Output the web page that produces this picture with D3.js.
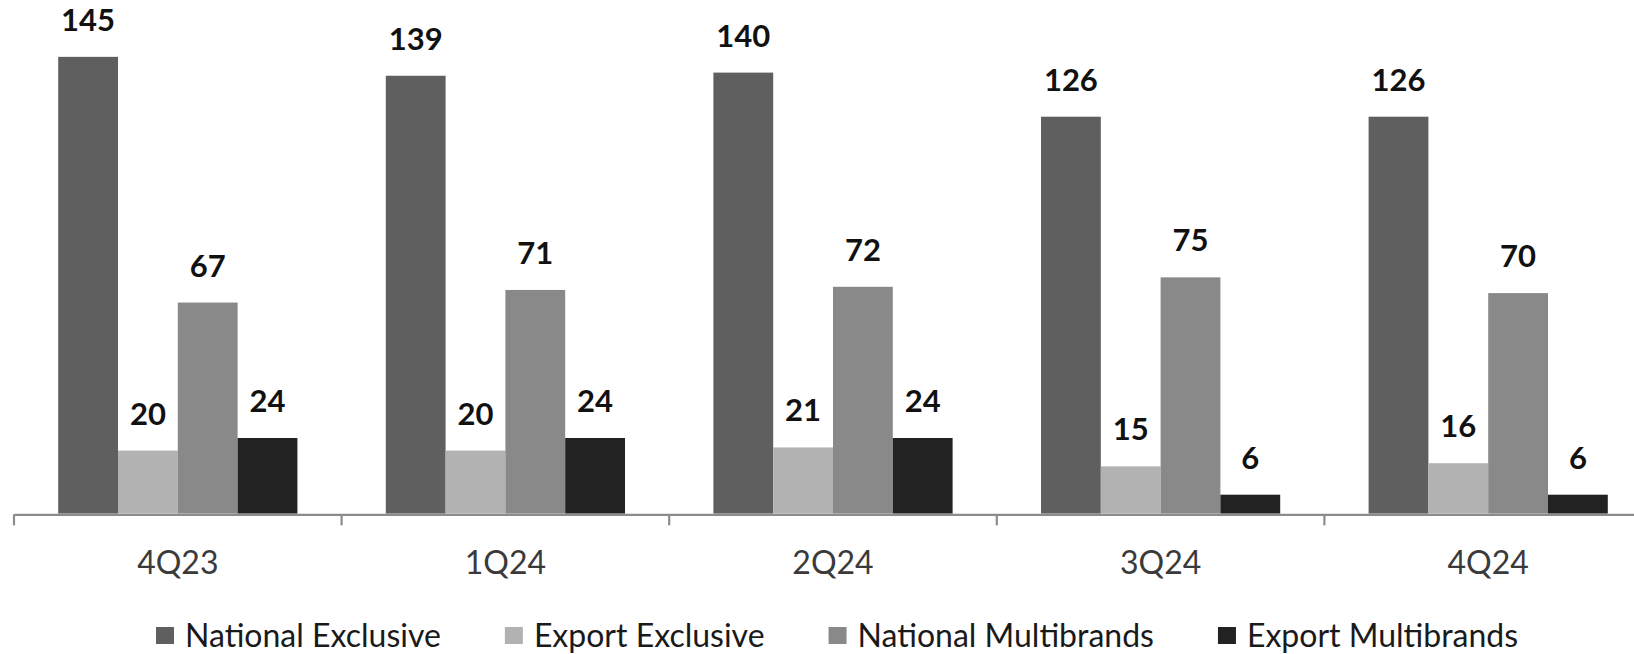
<!DOCTYPE html>
<html>
<head>
<meta charset="utf-8">
<script src="https://cdn.jsdelivr.net/npm/d3@7"></script>
<style>
  html, body { margin: 0; padding: 0; background: #fff; }
  svg { display: block; }
</style>
</head>
<body>
<div id="chart"></div>
<script>
const quarters = ["4Q23", "1Q24", "2Q24", "3Q24", "4Q24"];
const seriesNames = ["National Exclusive", "Export Exclusive", "National Multibrands", "Export Multibrands"];
const nationalExclusive = [145, 139, 140, 126, 126];
const exportExclusive = [20, 20, 21, 15, 16];
const nationalMultibrands = [67, 71, 72, 75, 70];
const exportMultibrands = [24, 24, 24, 6, 6];
const seriesColors = ["#5f5f5f", "#b2b2b2", "#898989", "#222222"];

const width = 1634;
const height = 654;

const seriesValues = [nationalExclusive, exportExclusive, nationalMultibrands, exportMultibrands];
const rows = quarters.map((q, i) => ({
  quarter: q,
  values: seriesNames.map((name, s) => ({ name, s, value: seriesValues[s][i] })),
}));

// each category is ~327.6px wide, the last one runs off the right edge
const axisLeft = 14;
const bandStep = 327.6;
const baseline = 513.6;
const groupInset = 44.2;

const x0 = d3.scaleBand()
  .domain(quarters)
  .range([axisLeft, axisLeft + bandStep * quarters.length])
  .padding(0);

const x1 = d3.scaleBand()
  .domain(seriesNames)
  .range([groupInset, x0.bandwidth() - groupInset])
  .padding(0);

const y = d3.scaleLinear()
  .domain([0, 160])
  .range([baseline, baseline - 160 * 3.15]);

const color = d3.scaleOrdinal().domain(seriesNames).range(seriesColors);

const svg = d3.select("#chart")
  .append("svg")
  .attr("width", width)
  .attr("height", height)
  .style("font-family", "Lato, 'Open Sans', sans-serif");

const groups = svg.append("g")
  .selectAll("g")
  .data(rows)
  .join("g")
  .attr("transform", (d) => `translate(${x0(d.quarter)},0)`);

groups.selectAll("rect")
  .data((d) => d.values)
  .join("rect")
  .attr("x", (d) => x1(d.name))
  .attr("y", (d) => y(d.value))
  .attr("width", x1.bandwidth())
  .attr("height", (d) => y(0) - y(d.value))
  .attr("fill", (d) => color(d.name));

groups.selectAll("text")
  .data((d) => d.values)
  .join("text")
  .attr("x", (d) => x1(d.name) + x1.bandwidth() / 2)
  .attr("y", (d) => y(d.value) - 26)
  .attr("text-anchor", "middle")
  .style("font-size", "31px")
  .style("font-weight", "bold")
  .style("fill", "#111")
  .text((d) => d.value);

// x axis: labels centred, separator ticks between categories
const xAxis = svg.append("g")
  .attr("transform", `translate(0,${baseline + 0.7})`)
  .call(d3.axisBottom(x0).tickSize(0).tickSizeOuter(0).tickPadding(37));

xAxis.select(".domain")
  .attr("stroke", "#8c8c8c")
  .attr("stroke-width", 2.2);

xAxis.selectAll(".tick text")
  .style("font-size", "32px")
  .style("font-family", "Lato, 'Open Sans', sans-serif")
  .style("fill", "#3a3a3a")
  .attr("dy", "0.71em");

xAxis.selectAll(".sep")
  .data(quarters)
  .join("line")
  .attr("class", "sep")
  .attr("x1", (d) => x0(d))
  .attr("x2", (d) => x0(d))
  .attr("y1", 0)
  .attr("y2", 11)
  .attr("stroke", "#8c8c8c")
  .attr("stroke-width", 2.2);

// legend
const legend = svg.append("g").attr("transform", "translate(156,0)");
let cursor = 0;
seriesNames.forEach((name) => {
  const item = legend.append("g").attr("transform", `translate(${cursor},0)`);
  item.append("rect")
    .attr("x", 0)
    .attr("y", 627)
    .attr("width", 18)
    .attr("height", 17)
    .attr("fill", color(name));
  const t = item.append("text")
    .attr("x", 29)
    .attr("y", 647)
    .style("font-size", "32px")
    .style("fill", "#1a1a1a")
    .text(name);
  cursor += 29 + t.node().getComputedTextLength() + 64;
});
</script>
</body>
</html>
